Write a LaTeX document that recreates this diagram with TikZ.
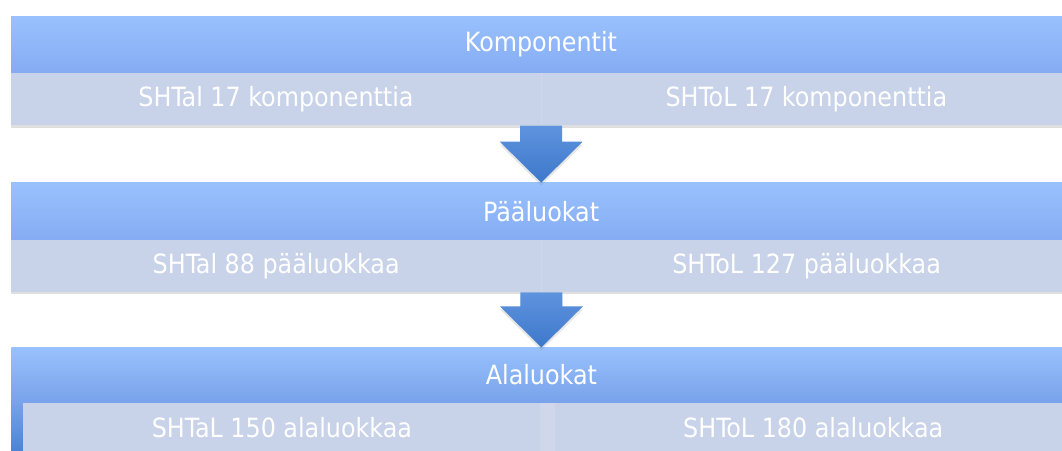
\documentclass[tikz,border=0pt]{standalone}
\usepackage{fontspec}
\setmainfont{DejaVu Sans Condensed}
\usetikzlibrary{positioning,calc,shadows}

\definecolor{headtop}{HTML}{99C1FD}
\definecolor{headbot}{HTML}{85ACF3}
\definecolor{headdark}{HTML}{78A2EA}
\definecolor{headdeep}{HTML}{3F7CD1}
\definecolor{subfill}{HTML}{C8D2E8}
\definecolor{subgap}{HTML}{D0D7EA}
\definecolor{arrowtop}{HTML}{5E93DE}
\definecolor{arrowbot}{HTML}{3E78CB}

\tikzset{
  bandhead/.style={rectangle, minimum width=1060pt, minimum height=57pt, inner sep=0pt,
    top color=headtop, bottom color=headbot, text=white, font=\fontsize{26.5}{30}\selectfont},
  bandsub/.style={rectangle, minimum width=530pt, minimum height=52pt, inner sep=0pt,
    fill=subfill, text=white, font=\fontsize{26.5}{30}\selectfont},
  bandshadow/.style={drop shadow={shadow xshift=0pt, shadow yshift=-3pt, opacity=.25}},
  flowarrow/.style={top color=arrowtop, bottom color=arrowbot,
    drop shadow={shadow xshift=0pt, shadow yshift=-3pt, opacity=.2}}
}

% block arrow from a bottom edge (#1) down to a tip (#2)
\newcommand{\flowdown}[2]{%
  \path[flowarrow] ($(#1)+(-21pt,0)$) -- ($(#1)+(21pt,0)$) -- ($(#2)+(21pt,41pt)$)
    -- ($(#2)+(41.5pt,41pt)$) -- (#2) -- ($(#2)+(-41.5pt,41pt)$)
    -- ($(#2)+(-21pt,41pt)$) -- cycle;}

\begin{document}
\begin{tikzpicture}
\useasboundingbox (0,0) rectangle (1062pt,-450pt);

% Komponentit
\path[bandshadow, fill=subfill] (11pt,-16pt) rectangle (1071pt,-125pt);
\node[bandhead] (komp) at (541pt,-44.5pt) {Komponentit};
\node[bandsub, anchor=north west] (kompA) at (komp.south west) {SHTal 17 komponenttia};
\node[bandsub, anchor=north west] (kompB) at (kompA.north east) {SHToL 17 komponenttia};
\draw[subgap] (kompA.north east) -- (kompA.south east);

% Pääluokat
\path[bandshadow, fill=subfill] (11pt,-182pt) rectangle (1071pt,-291pt);
\node[bandhead, below=57pt of kompA.south east] (paa) {Pääluokat};
\node[bandsub, anchor=north west] (paaA) at (paa.south west) {SHTal 88 pääluokkaa};
\node[bandsub, anchor=north west] (paaB) at (paaA.north east) {SHToL 127 pääluokkaa};
\draw[subgap] (paaA.north east) -- (paaA.south east);

% Alaluokat
\node[bandhead, minimum height=55pt, bottom color=headdark, below=55pt of paaA.south east] (ala) {Alaluokat};
\path[top color=headdark, bottom color=headdeep] (ala.south west) rectangle ++(1060pt,-60pt);
\path[fill=subgap] ($(ala.south west)+(12pt,0)$) rectangle ++(1048pt,-60pt);
\node[bandsub, minimum width=517pt, minimum height=50pt, anchor=north west] (alaA)
  at ($(ala.south west)+(12pt,0)$) {SHTaL 150 alaluokkaa};
\node[bandsub, minimum width=517pt, minimum height=50pt, anchor=north west] (alaB)
  at ($(alaA.north east)+(14pt,0)$) {SHToL 180 alaluokkaa};

% arrows
\flowdown{kompA.south east}{paa.north}
\flowdown{paaA.south east}{ala.north}
\end{tikzpicture}
\end{document}
